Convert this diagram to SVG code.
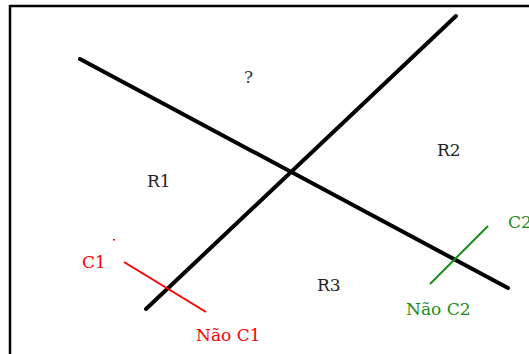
<svg xmlns="http://www.w3.org/2000/svg" width="529" height="354" viewBox="0 0 529 354">
<style>
.t{font-family:"DejaVu Serif","Liberation Serif",serif;font-size:17px}
.k{stroke:#000;stroke-width:4;stroke-linecap:round;fill:none}
.red{fill:#ff0000}.grn{fill:#1a8c1a}
</style>
<rect width="529" height="354" fill="#fff"/>
<g id="frame" fill="none" stroke="#000" stroke-width="2.5">
<line x1="10" y1="6" x2="529" y2="6"/>
<line x1="10" y1="5" x2="10" y2="354"/>
</g>
<g id="connectors">
<line class="k" x1="80" y1="59" x2="508" y2="288"/>
<line class="k" x1="146" y1="309" x2="456" y2="16"/>
<line x1="124" y1="262" x2="206" y2="312" stroke="#ff0000" stroke-width="2"/>
<line x1="488" y1="226" x2="430" y2="284" stroke="#1a8c1a" stroke-width="2"/>
<rect x="113" y="239" width="2" height="1.5" fill="#ff0000"/>
</g>
<g id="q"><text class="t" x="244" y="83" fill="#333">?</text></g>
<g id="R1"><text class="t" x="147" y="187" fill="#222">R1</text></g>
<g id="R2"><text class="t" x="437" y="156" fill="#222">R2</text></g>
<g id="R3"><text class="t" x="317" y="291" fill="#222">R3</text></g>
<g id="C1"><text class="t red" x="82" y="268">C1</text></g>
<g id="NaoC1"><text class="t red" x="196" y="341">Não C1</text></g>
<g id="C2"><text class="t grn" x="508" y="228">C2</text></g>
<g id="NaoC2"><text class="t grn" x="406" y="315">Não C2</text></g>
</svg>
